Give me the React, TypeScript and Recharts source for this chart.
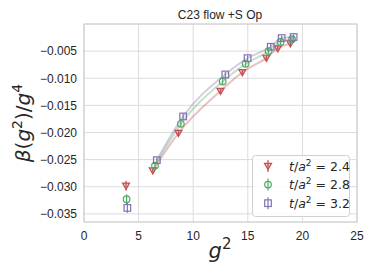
import React from "react";
import {
  ComposedChart,
  Scatter,
  Line,
  XAxis,
  YAxis,
  CartesianGrid,
  ErrorBar,
  ReferenceArea,
  Customized,
} from "recharts";

// ---- data ----
const g2T24 = [3.85, 6.3, 8.65, 12.5, 14.5, 16.7, 17.75, 18.9];
const betaT24 = [-0.0298, -0.027, -0.0201, -0.01235, -0.0089, -0.00624, -0.0045, -0.0036];
const errT24 = [0.0009, 0.0005, 0.0006, 0.0005, 0.0005, 0.0005, 0.0005, 0.0005];

const g2T28 = [3.9, 6.5, 8.87, 12.7, 14.8, 16.9, 18.0, 19.05];
const betaT28 = [-0.0323, -0.0261, -0.0184, -0.0106, -0.00735, -0.005, -0.0033, -0.0028];
const errT28 = [0.0009, 0.0005, 0.0006, 0.0005, 0.0005, 0.0005, 0.0005, 0.0005];

const g2T32 = [3.97, 6.67, 9.08, 12.94, 14.98, 17.1, 18.1, 19.2];
const betaT32 = [-0.0339, -0.0251, -0.01704, -0.0093, -0.0063, -0.0042, -0.0026, -0.0024];
const errT32 = [0.0009, 0.0005, 0.0006, 0.0005, 0.0005, 0.0005, 0.0005, 0.0005];

const seriesLabels = ["2.4", "2.8", "3.2"];
const xTicks = [0, 5, 10, 15, 20, 25];
const yTicks = [-0.035, -0.03, -0.025, -0.02, -0.015, -0.01, -0.005];
const titleText = "C23 flow +S Op";

const COLORS = ["#C44E52", "#55A868", "#8172B2"];

const toRows = (xs: number[], ys: number[], es: number[]) =>
  xs.map((x, i) => ({ x, y: ys[i], e: es[i] }));

const rows = [
  toRows(g2T24, betaT24, errT24),
  toRows(g2T28, betaT28, errT28),
  toRows(g2T32, betaT32, errT32),
];
// fit curves drawn through the points above g^2 = 5
const fitRows = rows.map((r) => r.filter((p) => p.x > 5));

const TriDown = (props: any) => {
  const { cx, cy } = props;
  if (cx == null || cy == null) return null;
  return (
    <polygon
      points={`${cx - 3.5},${cy - 2.6} ${cx + 3.5},${cy - 2.6} ${cx},${cy + 3.6}`}
      fill={COLORS[0]}
      fillOpacity={0.3}
      stroke={COLORS[0]}
      strokeWidth={1.2}
    />
  );
};
const Circ = (props: any) => {
  const { cx, cy } = props;
  if (cx == null || cy == null) return null;
  return <circle cx={cx} cy={cy} r={3.3} fill="none" stroke={COLORS[1]} strokeWidth={1.2} />;
};
const Sq = (props: any) => {
  const { cx, cy } = props;
  if (cx == null || cy == null) return null;
  return (
    <rect x={cx - 3.3} y={cy - 3.3} width={6.6} height={6.6} fill="none" stroke={COLORS[2]} strokeWidth={1.2} />
  );
};
const shapes = [TriDown, Circ, Sq];

const fmtY = (v: number) => {
  const s = Math.abs(v).toFixed(3);
  return v < 0 ? "\u2212" + s : s;
};

const Overlay = () => {
  const math = "DejaVu Sans";
  return (
    <g>
      <text x={220} y={19} textAnchor="middle" fontFamily="Liberation Sans, Arial" fontSize={12} fill="#262626">
        {titleText}
      </text>
      <text x={220} y={258} textAnchor="middle" fontFamily={math} fontStyle="italic" fontSize={21} fill="#262626">
        g<tspan dy={-9} fontSize={15} fontStyle="normal">2</tspan>
      </text>
      <text
        transform="translate(30,123) rotate(-90)"
        textAnchor="middle"
        fontFamily={math}
        fontSize={20}
        fill="#262626"
      >
        <tspan fontStyle="italic">β</tspan>
        <tspan>(</tspan>
        <tspan fontStyle="italic">g</tspan>
        <tspan dy={-8} fontSize={14}>2</tspan>
        <tspan dy={8}>)/</tspan>
        <tspan fontStyle="italic">g</tspan>
        <tspan dy={-8} fontSize={14}>4</tspan>
      </text>
      {/* legend */}
      <rect x={252.5} y={155.5} width={97} height={61} rx={3} fill="#ffffff" fillOpacity={0.85} stroke="#d0d0d0" />
      {seriesLabels.map((lab, i) => {
        const cy = 166 + i * 18.6;
        const Shape = shapes[i];
        return (
          <g key={lab}>
            <line x1={268} x2={268} y1={cy - 6} y2={cy + 6} stroke={COLORS[i]} strokeWidth={1.2} />
            <Shape cx={268} cy={cy} />
            <text x={289} y={cy + 4.5} fontFamily={math} fontSize={12.5} fill="#262626">
              <tspan fontStyle="italic">t</tspan>
              <tspan>/</tspan>
              <tspan fontStyle="italic">a</tspan>
              <tspan dy={-5} fontSize={9}>2</tspan>
              <tspan dy={5}>{" = " + lab}</tspan>
            </text>
          </g>
        );
      })}
    </g>
  );
};

export default function App() {
  return (
    <div style={{ position: "absolute", left: 0, top: 0, width: 374, height: 280, background: "#fff" }}>
      <ComposedChart width={374} height={280} margin={{ top: 24, right: 17, bottom: 28, left: 0 }}>
        <CartesianGrid stroke="#dcdcdc" strokeWidth={1} />
        <XAxis
          type="number"
          dataKey="x"
          domain={[0, 25]}
          ticks={xTicks}
          allowDataOverflow
          axisLine={false}
          tickLine={false}
          tickMargin={3}
          height={30}
          tick={{ fontSize: 12, fill: "#262626", fontFamily: "Liberation Sans, Arial" }}
        />
        <YAxis
          type="number"
          dataKey="y"
          domain={[-0.0365, 0]}
          ticks={yTicks}
          allowDataOverflow
          axisLine={false}
          tickLine={false}
          tickMargin={1}
          width={84}
          tickFormatter={fmtY}
          tick={{ fontSize: 12, fill: "#262626", fontFamily: "Liberation Sans, Arial" }}
        />
        <ReferenceArea x1={0} x2={25} y1={-0.0365} y2={0} fill="none" stroke="#d0d0d0" strokeWidth={1.2} ifOverflow="visible" />
        {fitRows.map((d, i) => (
          <Line
            key={"fit" + i}
            data={d}
            dataKey="y"
            type="monotone"
            stroke={COLORS[i]}
            strokeOpacity={0.35}
            strokeWidth={2}
            dot={false}
            activeDot={false}
            isAnimationActive={false}
          />
        ))}
        {rows.map((d, i) => (
          <Scatter key={"s" + i} data={d} dataKey="y" shape={shapes[i]} isAnimationActive={false}>
            <ErrorBar dataKey="e" direction="y" width={0} stroke={COLORS[i]} strokeWidth={1.2} isAnimationActive={false} />
          </Scatter>
        ))}
        <Customized component={Overlay} />
      </ComposedChart>
    </div>
  );
}
